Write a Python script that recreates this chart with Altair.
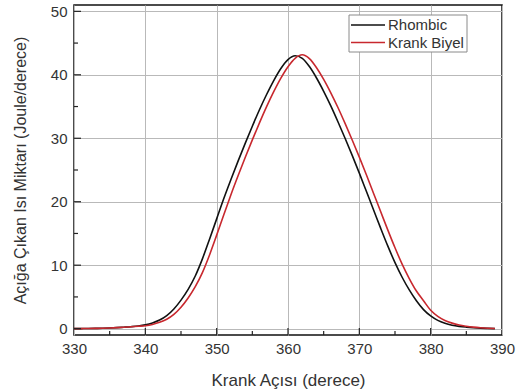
import altair as alt
import pandas as pd

# ---- data ----
angle = list(range(330, 390))
rhombic = [0.0, 0.01, 0.02, 0.04, 0.07, 0.11, 0.16, 0.23, 0.31, 0.42,
           0.6, 0.9, 1.35, 2.05, 3.1, 4.5, 6.2, 8.3, 11.0, 14.1,
           17.3, 20.5, 23.5, 26.4, 29.2, 31.9, 34.5, 36.9, 39.1, 41.0,
           42.4, 43.0, 42.6, 41.3, 39.5, 37.4, 35.1, 32.6, 30.0, 27.3,
           24.5, 21.6, 18.7, 15.8, 13.0, 10.4, 8.1, 6.1, 4.4, 3.0,
           2.0, 1.3, 0.85, 0.55, 0.36, 0.24, 0.15, 0.08, 0.04, 0.01]
krank_biyel = [0.0, 0.01, 0.02, 0.04, 0.07, 0.11, 0.16, 0.22, 0.3, 0.38,
               0.46, 0.66, 0.99, 1.49, 2.26, 3.38, 4.84, 6.62, 8.84, 11.62,
               14.74, 17.94, 21.1, 24.08, 26.96, 29.74, 32.42, 34.98, 37.34, 39.48,
               41.28, 42.6, 43.15, 42.55, 41.12, 39.29, 37.17, 34.85, 32.34, 29.73,
               27.02, 24.21, 21.31, 18.41, 15.52, 12.74, 10.17, 7.9, 5.93, 4.4,
               2.9, 1.95, 1.3, 0.87, 0.57, 0.38, 0.24, 0.14, 0.07, 0.03]
series = ["Rhombic", "Krank Biyel"]
colors = ["#111111", "#c8282e"]

x_domain = [330, 390]
y_domain = [-1, 51]
x_ticks = list(range(330, 391, 5))
y_ticks = list(range(0, 51, 5))
x_major = [v for v in x_ticks if v % 10 == 0 and v not in (330, 390)]
x_minor = [v for v in x_ticks if v % 10 != 0]
y_major = [v for v in y_ticks if v % 10 == 0]
y_minor = [v for v in y_ticks if v % 10 != 0]

x_title = "Krank Açısı (derece)"
y_title = "Açığa Çıkan Isı Miktarı (Joule/derece)"

W, H = 428, 330
TXT = "#333333"

df_r = pd.DataFrame({"angle": angle, "value": rhombic, "series": series[0]})
df_k = pd.DataFrame({"angle": angle, "value": krank_biyel, "series": series[1]})

xscale = alt.Scale(domain=x_domain, nice=False, zero=False)
yscale = alt.Scale(domain=y_domain, nice=False, zero=False)

grid_cond = {"condition": {"test": "datum.value % 10 === 0", "value": "#b9b9b9"},
             "value": "#e3e3e3"}

xaxis = alt.Axis(values=x_ticks, labelExpr="datum.value % 10 === 0 ? datum.label : ''",
                 ticks=False, domain=False, grid=True, gridColor=grid_cond, gridWidth=1,
                 labelFontSize=15, labelColor=TXT, labelPadding=6, labelFlush=False,
                 title=x_title, titleFontSize=17, titleFontWeight="normal", titleColor=TXT,
                 titleY=45, titleBaseline="middle")
yaxis = alt.Axis(values=y_ticks, labelExpr="datum.value % 10 === 0 ? datum.label : ''",
                 ticks=False, domain=False, grid=True, gridColor=grid_cond, gridWidth=1,
                 labelFontSize=15, labelColor=TXT, labelPadding=7,
                 title=y_title, titleFontSize=16, titleFontWeight="normal", titleColor=TXT,
                 titleX=-54, titleY=H / 2, titleAngle=270, titleAlign="center",
                 titleBaseline="middle")

base_line = dict(strokeWidth=1.6, interpolate="monotone")

line_r = alt.Chart(df_r).mark_line(color=colors[0], **base_line).encode(
    x=alt.X("angle:Q", scale=xscale, axis=xaxis),
    y=alt.Y("value:Q", scale=yscale, axis=yaxis),
)
line_k = alt.Chart(df_k).mark_line(color=colors[1], **base_line).encode(
    x=alt.X("angle:Q", scale=xscale),
    y=alt.Y("value:Q", scale=yscale),
)

def yticks(vals, length):
    return alt.Chart(pd.DataFrame({"v": vals})).mark_rule(color="#222", strokeWidth=1.2).encode(
        y=alt.Y("v:Q", scale=yscale), x=alt.value(0), x2=alt.value(length))

def xticks(vals, length):
    return alt.Chart(pd.DataFrame({"v": vals})).mark_rule(color="#222", strokeWidth=1.2).encode(
        x=alt.X("v:Q", scale=xscale), y=alt.value(H), y2=alt.value(H - length))

one = alt.Data(values=[{}])
leg_box = alt.Chart(one).mark_rect(fill="white", stroke="#8a8a8a", strokeWidth=1).encode(
    x=alt.value(275), x2=alt.value(393), y=alt.value(10), y2=alt.value(47))
leg_items = []
for i, (name, col) in enumerate(zip(series, colors)):
    yy = 20 + i * 17.5
    leg_items.append(alt.Chart(one).mark_rule(color=col, strokeWidth=1.6).encode(
        x=alt.value(277), x2=alt.value(311), y=alt.value(yy)))
    leg_items.append(alt.Chart(one).mark_text(align="left", baseline="middle", fontSize=15,
                                              color=TXT).encode(
        x=alt.value(314), y=alt.value(yy), text=alt.value(name)))

chart = alt.layer(
    line_r, line_k,
    yticks(y_major, 7), yticks(y_minor, 4),
    xticks(x_major, 7), xticks(x_minor, 4),
    leg_box, *leg_items,
).properties(
    width=W, height=H,
    autosize=alt.AutoSizeParams(type="none"),
    padding={"left": 74, "top": 5, "right": 17, "bottom": 55},
).configure(font="Liberation Sans").configure_view(stroke="#111", strokeWidth=1.5)

chart.save("out.html", embed_options={"renderer": "svg", "actions": False})
